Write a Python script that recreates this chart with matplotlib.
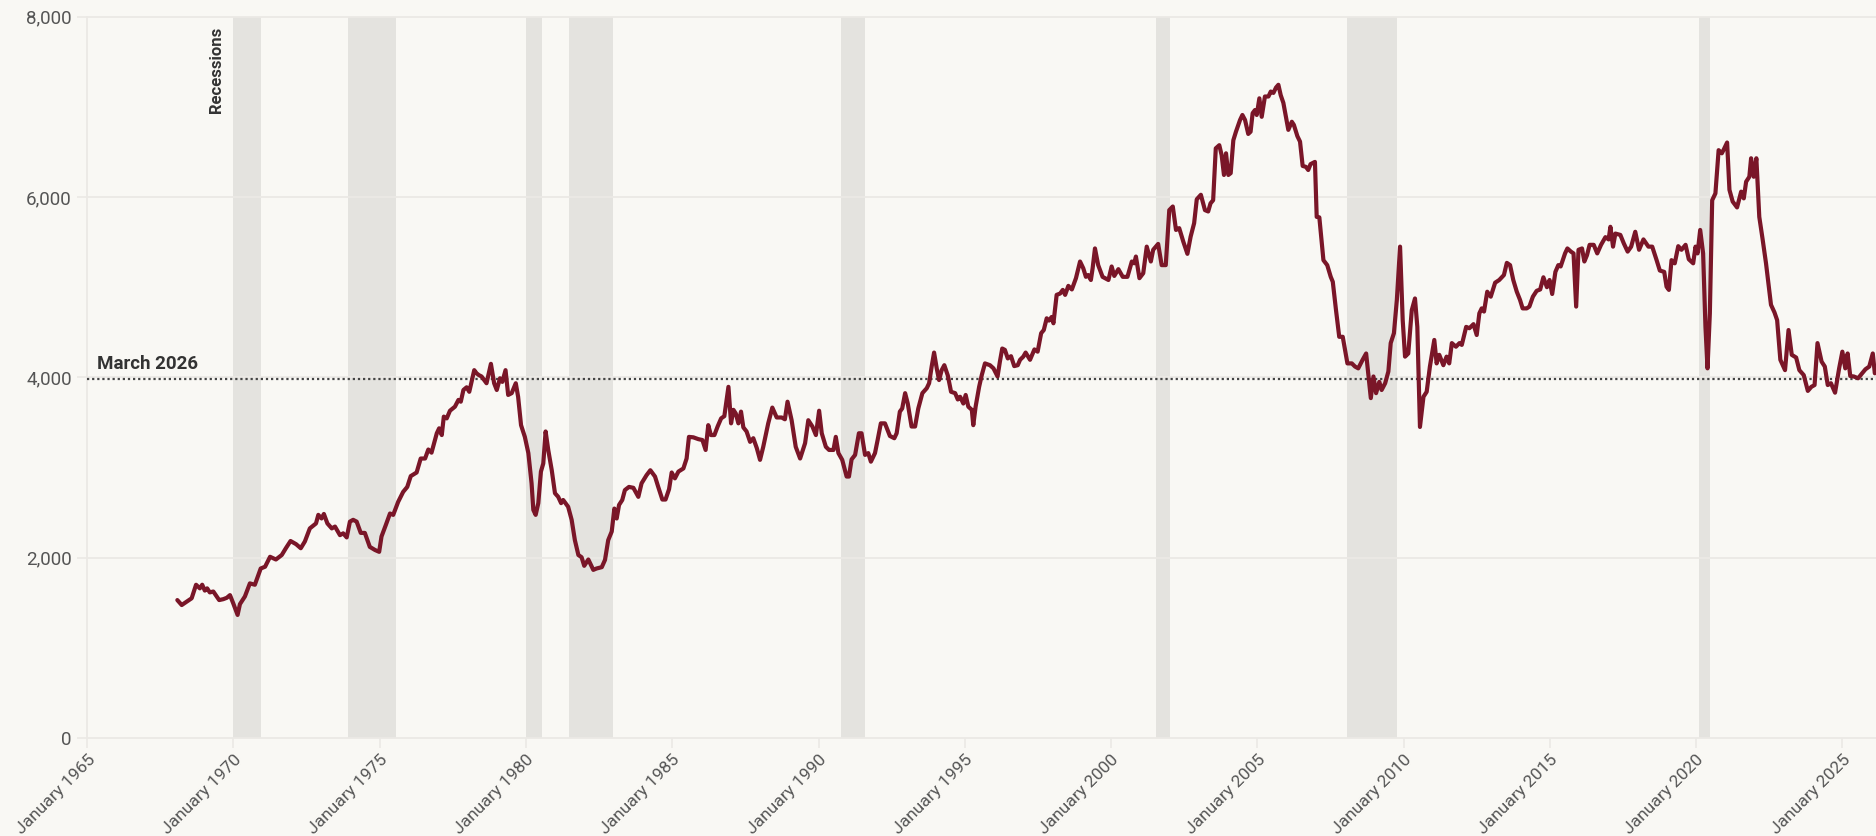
import matplotlib
matplotlib.use("Agg")
import matplotlib.pyplot as plt
from matplotlib.ticker import FuncFormatter, FixedLocator

plt.rcParams['font.family'] = ['Roboto', 'DejaVu Sans']

# ---- data (decimal year, thousands of units) ----
years = [
1968.08,1968.23,1968.57,1968.72,1968.85,1968.93,1969.02,1969.10,1969.19,1969.31,1969.51,1969.65,1969.77,1969.88,1969.99,
1970.14,1970.22,1970.39,1970.56,1970.73,1970.93,1971.08,1971.25,1971.45,1971.65,1971.79,1971.95,1972.14,1972.30,1972.44,
1972.61,1972.82,1972.90,1973.01,1973.09,1973.21,1973.36,1973.47,1973.64,1973.75,1973.87,1973.98,1974.09,1974.21,1974.35,
1974.49,1974.66,1974.84,1974.98,1975.06,1975.21,1975.35,1975.46,1975.63,1975.80,1975.94,1976.06,1976.26,1976.40,1976.55,
1976.66,1976.77,1976.95,1977.03,1977.12,1977.19,1977.29,1977.40,1977.57,1977.69,1977.77,1977.86,1977.97,1978.06,
1978.23,1978.31,1978.39,1978.48,1978.65,1978.80,1978.91,1979.00,1979.11,1979.19,1979.30,1979.39,1979.51,1979.65,1979.73,
1979.83,1979.96,1980.08,1980.19,1980.25,1980.33,1980.42,1980.51,1980.59,1980.67,1980.76,1980.88,1980.99,1981.10,1981.20,
1981.27,1981.44,1981.56,1981.67,1981.79,1981.90,1981.99,1982.13,1982.30,1982.41,1982.59,1982.70,1982.81,1982.93,1983.02,
1983.10,1983.18,1983.29,1983.38,1983.52,1983.67,1983.84,1983.95,1984.12,1984.25,1984.41,1984.52,1984.66,1984.77,1984.89,
1984.98,1985.09,1985.21,1985.38,1985.49,1985.57,1985.72,1985.89,1986.03,1986.14,1986.23,1986.32,1986.44,1986.55,1986.67,
1986.78,1986.92,1987.01,1987.09,1987.17,1987.26,1987.35,1987.43,1987.54,1987.66,1987.77,1987.89,
1988.00,1988.11,1988.28,1988.42,1988.57,1988.74,1988.85,1988.94,1989.08,1989.22,1989.37,1989.54,1989.65,1989.79,1989.91,
1990.02,1990.11,1990.25,1990.36,1990.51,1990.59,1990.68,1990.81,1990.96,1991.04,1991.13,1991.25,1991.38,1991.47,1991.59,
1991.70,1991.79,1991.93,1992.02,1992.13,1992.27,1992.44,1992.59,1992.67,1992.78,1992.86,1992.96,1993.05,1993.18,1993.30,
1993.41,1993.55,1993.70,1993.78,1993.87,1993.95,1994.04,1994.12,1994.21,1994.30,1994.42,1994.53,1994.67,1994.76,1994.84,
1994.95,1995.03,1995.12,1995.24,1995.29,1995.37,1995.49,1995.58,1995.69,1995.86,1995.98,1996.12,1996.20,1996.28,1996.37,
1996.47,1996.58,1996.69,1996.81,1996.89,1997.00,1997.08,1997.23,1997.38,1997.49,1997.61,1997.70,1997.80,1997.88,1997.97,
1998.03,1998.14,1998.26,1998.35,1998.43,1998.54,1998.66,1998.80,1998.94,1999.05,1999.14,1999.22,1999.31,1999.37,1999.45,
1999.56,1999.71,1999.91,2000.02,2000.11,2000.25,2000.40,2000.56,2000.71,2000.79,2000.85,2000.97,2001.10,2001.22,2001.36,
2001.44,2001.61,2001.73,2001.87,2001.99,2002.11,2002.22,2002.33,2002.47,2002.61,2002.72,2002.84,2002.93,2003.07,2003.21,
2003.32,2003.40,2003.49,2003.58,2003.70,2003.78,2003.86,2003.93,2004.01,2004.09,2004.18,2004.27,2004.41,2004.49,2004.58,
2004.69,2004.77,2004.84,2004.92,2004.98,2005.07,2005.15,2005.26,2005.38,2005.46,2005.55,2005.64,2005.72,2005.80,2005.89,
2006.01,2006.06,2006.18,2006.25,2006.37,2006.46,2006.55,2006.66,2006.74,2006.82,2006.97,2007.03,2007.12,2007.26,2007.39,
2007.51,2007.58,2007.69,2007.80,2007.92,
2008.08,2008.23,2008.34,2008.45,2008.60,2008.72,2008.79,2008.88,2008.97,2009.06,2009.17,2009.25,2009.37,2009.48,2009.56,
2009.67,2009.77,2009.88,2009.97,2010.05,2010.16,2010.28,2010.39,2010.47,2010.56,2010.68,2010.79,2010.90,2011.05,2011.13,
2011.22,2011.36,2011.47,2011.56,2011.65,2011.79,2011.91,2011.99,2012.14,2012.25,2012.39,2012.50,2012.59,2012.67,2012.75,
2012.86,2012.98,2013.13,2013.27,2013.43,2013.53,2013.64,2013.75,2013.87,2013.98,2014.07,2014.21,2014.30,2014.42,2014.55,
2014.67,2014.78,2014.90,2014.99,2015.08,2015.19,2015.29,2015.37,2015.52,2015.60,2015.72,2015.81,2015.90,2015.98,2016.10,
2016.18,2016.27,2016.36,2016.50,2016.62,2016.75,2016.90,2017.01,2017.07,2017.16,2017.24,2017.41,2017.53,2017.66,2017.78,
2017.92,
2018.05,2018.20,2018.37,2018.50,2018.65,2018.76,2018.91,2018.99,2019.07,2019.16,2019.27,2019.39,2019.50,2019.64,2019.75,
2019.90,2019.98,2020.05,2020.14,2020.24,2020.32,2020.39,2020.47,2020.55,2020.66,2020.77,2020.88,2020.95,2021.06,2021.14,
2021.25,2021.40,2021.54,2021.63,2021.71,2021.82,2021.88,2021.97,2022.06,2022.16,2022.27,2022.39,2022.56,2022.68,2022.77,
2022.88,2023.04,2023.16,2023.27,2023.42,2023.53,2023.68,2023.82,2023.94,2024.05,2024.15,2024.29,2024.40,2024.50,2024.61,
2024.75,2024.89,2025.00,2025.10,2025.18,2025.27,2025.39,2025.54,2025.65,2025.79,2025.92,2026.04,2026.11,2026.17,
]

sales = [
1530,1475,1550,1700,1660,1700,1635,1660,1615,1625,1530,1540,1555,1585,1495,
1365,1485,1570,1715,1700,1880,1900,2010,1980,2030,2105,2185,2150,2105,2180,
2325,2380,2475,2435,2485,2380,2325,2345,2250,2270,2225,2400,2420,2400,2275,
2275,2120,2085,2065,2235,2365,2490,2475,2620,2730,2785,2905,2945,3100,3100,
3200,3165,3380,3435,3360,3565,3545,3630,3675,3750,3730,3860,3890,3840,
4080,4045,4025,4010,3935,4150,3935,3860,3990,3950,4080,3805,3825,3935,3785,
3470,3340,3160,2825,2530,2475,2605,2955,3045,3400,3195,2970,2715,2675,2605,
2640,2565,2420,2195,2030,2005,1910,1980,1865,1880,1895,1975,2195,2290,2545,
2435,2585,2640,2750,2785,2775,2675,2825,2915,2970,2900,2785,2645,2645,2760,
2945,2880,2955,2990,3100,3340,3335,3315,3305,3195,3470,3360,3360,3455,3545,
3570,3895,3490,3640,3600,3490,3620,3445,3400,3285,3325,3215,
3085,3230,3490,3665,3555,3555,3535,3730,3525,3230,3100,3270,3525,3455,3360,
3630,3380,3230,3195,3195,3340,3160,3085,2900,2900,3090,3140,3380,3380,3140,
3160,3065,3160,3305,3490,3490,3350,3325,3380,3620,3655,3825,3710,3455,3455,
3655,3825,3880,3935,4125,4275,4100,3970,4080,4135,4020,3840,3825,3755,3785,
3710,3805,3675,3640,3470,3675,3895,4025,4155,4135,4100,4010,4175,4320,4305,
4210,4235,4125,4135,4195,4230,4275,4195,4310,4285,4490,4525,4655,4630,4670,
4600,4915,4930,4970,4915,5015,4975,5100,5285,5210,5115,5135,5080,5210,5430,
5245,5115,5080,5230,5125,5200,5115,5115,5285,5265,5340,5100,5155,5450,5285,
5415,5480,5245,5245,5855,5895,5635,5655,5505,5370,5560,5710,5975,6025,5855,
5840,5930,5965,6540,6575,6465,6245,6485,6245,6265,6630,6725,6855,6910,6855,
6700,6725,6930,6965,6910,7095,6890,7115,7115,7170,7155,7215,7245,7130,7045,
6835,6745,6835,6800,6675,6615,6345,6335,6300,6365,6390,5780,5775,5300,5245,
5115,5060,4745,4450,4450,
4155,4155,4120,4100,4195,4265,4045,3770,4010,3825,3950,3860,3935,4065,4380,
4490,4860,5450,4635,4230,4265,4745,4875,4560,3450,3785,3840,4120,4415,4155,
4250,4135,4230,4155,4380,4340,4380,4360,4560,4545,4590,4470,4710,4765,4730,
4950,4895,5050,5080,5135,5270,5245,5080,4950,4860,4765,4765,4785,4895,4960,
4975,5110,5000,5080,4925,5170,5245,5230,5375,5430,5395,5375,4785,5415,5430,
5285,5355,5470,5470,5375,5470,5555,5530,5670,5450,5595,5580,5485,5395,5450,
5615,
5415,5530,5450,5450,5300,5185,5170,5005,4970,5300,5265,5455,5415,5470,5310,
5265,5450,5375,5635,5375,4560,4100,4710,5965,6040,6520,6485,6530,6605,6080,
5950,5885,6060,5985,6170,6225,6430,6225,6430,5780,5540,5265,4805,4720,4635,
4195,4080,4525,4250,4220,4080,4025,3850,3895,3915,4380,4175,4120,3915,3935,
3830,4100,4285,4100,4265,4015,4010,3990,4035,4090,4120,4265,4045,4100,
]

# recession periods (start, end) as shaded in the reference
recession_starts = [1969.99, 1973.92, 1980.01, 1981.48, 1990.77, 2001.52, 2008.07, 2020.09]
recession_ends   = [1970.93, 1975.55, 1980.54, 1982.99, 1991.58, 2002.01, 2009.79, 2020.46]

reference_value = 3980
reference_label = "March 2026"
x_tick_years = [1965, 1970, 1975, 1980, 1985, 1990, 1995, 2000, 2005, 2010, 2015, 2020, 2025]
y_ticks = [0, 2000, 4000, 6000, 8000]

# ---- style ----
BG = '#f9f8f4'
GRID = '#ebe9e5'
SHADE = '#e4e3df'
LINE = '#7a1628'
TXT = '#555555'
DARK = '#333333'

fig = plt.figure(figsize=(18.76, 8.36), dpi=100, facecolor=BG)
ax = fig.add_axes([0.0465, 0.1172, 0.9535, 0.8628])
ax.set_facecolor(BG)

ax.set_xlim(1965, 2026.15)
ax.set_ylim(0, 8000)

for s, e in zip(recession_starts, recession_ends):
    ax.axvspan(s, e, color=SHADE, lw=0, zorder=0.5)

for v in y_ticks:
    ax.axhline(v, color=GRID, lw=1.3, zorder=0.8, clip_on=False)
ax.axvline(1965, color=GRID, lw=1.3, zorder=0.8, clip_on=False)

ax.axhline(reference_value, color='#444444', lw=1.6, ls=(0, (1, 1.3)), zorder=2)
ax.text(1965.33, reference_value + 110, reference_label, fontsize=13.5, fontweight='bold',
        color=DARK, ha='left', va='baseline', zorder=4)

ax.plot(years, sales, color=LINE, lw=3.0, solid_joinstyle='round', solid_capstyle='round', zorder=3)

ax.text(1969.42, 7890, 'Recessions', rotation=90, ha='center', va='top',
        fontsize=12, fontweight='bold', color=DARK, zorder=4)

for sp in ax.spines.values():
    sp.set_visible(False)

ax.yaxis.set_major_locator(FixedLocator(y_ticks))
ax.yaxis.set_major_formatter(FuncFormatter(lambda v, p: f"{int(v):,}"))
ax.xaxis.set_major_locator(FixedLocator(x_tick_years))
ax.xaxis.set_major_formatter(FuncFormatter(lambda v, p: f"January {int(round(v))}"))

ax.tick_params(axis='y', length=7, width=1.2, color=GRID, labelcolor=TXT, labelsize=13.5, pad=4)
ax.tick_params(axis='x', length=7, width=1.2, color=GRID, labelcolor=TXT, labelsize=12.5, pad=3)
for lab in ax.get_xticklabels():
    lab.set_rotation(45)
    lab.set_ha('right')
    lab.set_va('top')
    lab.set_rotation_mode('anchor')

fig.savefig('out.png', dpi=100, facecolor=BG)
